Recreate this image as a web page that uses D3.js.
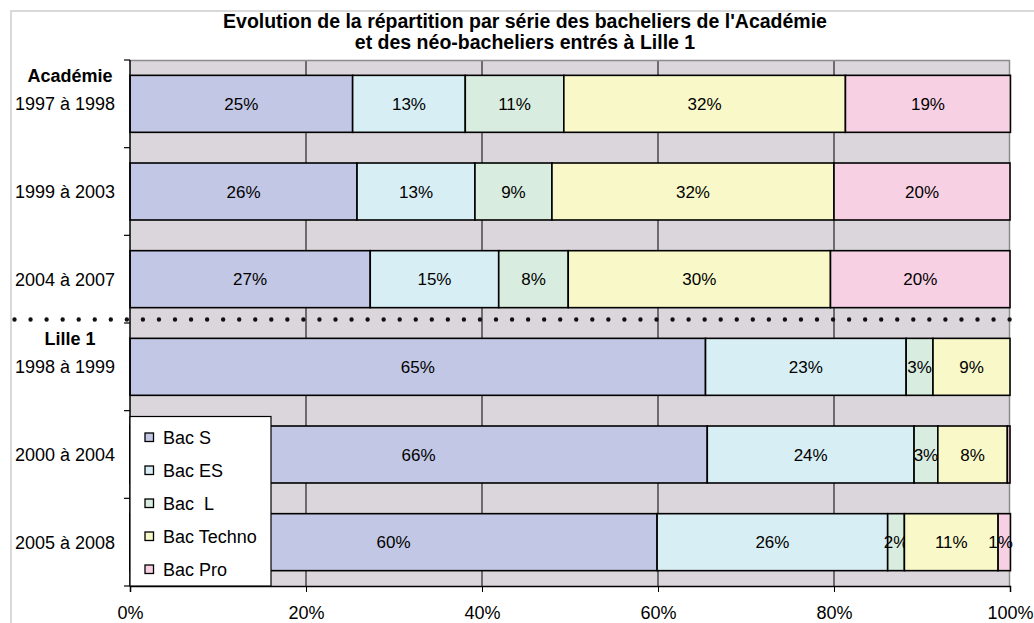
<!DOCTYPE html>
<html>
<head>
<meta charset="utf-8">
<script src="https://cdn.jsdelivr.net/npm/d3@7"></script>
<style>
body { margin: 0; background: #fff; }
svg text { font-family: "Liberation Sans", Arial, sans-serif; }
</style>
</head>
<body>
<div id="chart"></div>
<script>
// periods, top to bottom
const categories = ["1997 à 1998", "1999 à 2003", "2004 à 2007", "1998 à 1999", "2000 à 2004", "2005 à 2008"];
const groupNames = ["Académie", "Lille 1"];
const groupStart = [0, 3];
const series = ["Bac S", "Bac ES", "Bac  L", "Bac Techno", "Bac Pro"];
const colors = ["#c2c7e5", "#d7eef4", "#d8ecdf", "#f8f8c8", "#f8d0e4"];

// percentages
const bacS      = [25.3, 25.8, 27.3, 65.4, 65.6, 59.9];
const bacES     = [12.8, 13.4, 14.6, 22.8, 23.5, 26.2];
const bacL      = [11.2, 8.75, 7.9, 3.05, 2.7, 1.9];
const bacTechno = [32.0, 32.05, 29.8, 8.75, 7.9, 10.65];
const bacPro    = [18.75, 20.0, 20.4, 0, 0.3, 1.4];

const xTicks = [0, 20, 40, 60, 80, 100];

let values = [bacS, bacES, bacL, bacTechno, bacPro];
let table = categories.map((c, i) => {
  let row = {idx: i, cat: c};
  series.forEach((s, k) => row[s] = values[k][i]);
  return row;
});

const width = 1034, height = 623;
const pLeft = 130, pRight = 1010, pTop = 60, pBottom = 586;

let svg = d3.select("#chart").append("svg")
  .attr("width", width)
  .attr("height", height);

// outer chart frame (only top and left edges are in view)
svg.append("path")
  .attr("d", "M11,640V11H1034")
  .attr("fill", "none")
  .attr("stroke", "#d9d9d9")
  .attr("stroke-width", 2);

let x = d3.scaleLinear().domain([0, 100]).range([pLeft, pRight]);
let y = d3.scaleBand().domain(d3.range(categories.length))
  .range([pTop, pBottom]).paddingInner(0.35).paddingOuter(0.175);

// plot background
svg.append("rect")
  .attr("x", pLeft).attr("y", pTop)
  .attr("width", pRight - pLeft).attr("height", pBottom - pTop)
  .attr("fill", "#dbd6db");

// gridlines
svg.append("g").selectAll("line")
  .data(xTicks.slice(1, -1))
  .enter().append("line")
  .attr("x1", d => x(d)).attr("x2", d => x(d))
  .attr("y1", pTop).attr("y2", pBottom)
  .attr("stroke", "#000").attr("stroke-width", 1);

// plot border top / right
svg.append("path")
  .attr("d", `M${pLeft},${pTop + 0.5}H${pRight - 0.5}V${pBottom}`)
  .attr("fill", "none").attr("stroke", "#8c8c8c").attr("stroke-width", 1.5);

// dotted separator between the two groups
let sepY = pTop + y.step() * groupStart[1] - 3.5;
svg.append("line")
  .attr("x1", 14.5).attr("x2", pRight)
  .attr("y1", sepY).attr("y2", sepY)
  .attr("stroke", "#111")
  .attr("stroke-width", 4.4)
  .attr("stroke-linecap", "round")
  .attr("stroke-dasharray", "0,16.05");

let stacked = d3.stack().keys(series)(table);

let layer = svg.append("g").selectAll("g")
  .data(stacked)
  .enter().append("g")
  .attr("fill", (d, i) => colors[i]);

layer.selectAll("rect")
  .data(d => d)
  .enter().append("rect")
  .attr("x", d => x(d[0]))
  .attr("y", d => y(d.data.idx))
  .attr("width", d => x(d[1]) - x(d[0]))
  .attr("height", y.bandwidth())
  .attr("stroke", "#000")
  .attr("stroke-width", 1.6);

// data labels
let fmt = v => Math.round(v) + "%";
layer.selectAll("text")
  .data(d => d.filter(p => p[1] - p[0] >= 0.5))
  .enter().append("text")
  .attr("x", d => {
    let c = x((d[0] + d[1]) / 2);
    let w = fmt(d[1] - d[0]).length * 8.5;
    return Math.min(c, pRight - w / 2 - 1);
  })
  .attr("y", d => y(d.data.idx) + y.bandwidth() / 2)
  .attr("dy", "0.36em")
  .attr("text-anchor", "middle")
  .attr("fill", "#000")
  .style("font-size", "17px")
  .text(d => fmt(d[1] - d[0]));

// left axis with ticks between categories
svg.append("line")
  .attr("x1", pLeft).attr("x2", pLeft)
  .attr("y1", pTop).attr("y2", pBottom)
  .attr("stroke", "#000").attr("stroke-width", 1.5);
svg.append("g").selectAll("line")
  .data(d3.range(categories.length + 1))
  .enter().append("line")
  .attr("x1", pLeft - 6).attr("x2", pLeft)
  .attr("y1", i => pTop + i * y.step()).attr("y2", i => pTop + i * y.step())
  .attr("stroke", "#000").attr("stroke-width", 1.2);

// category labels
svg.append("g").selectAll("text")
  .data(categories)
  .enter().append("text")
  .attr("x", 65)
  .attr("y", (d, i) => y(i) + y.bandwidth() / 2)
  .attr("dy", "0.36em")
  .attr("text-anchor", "middle")
  .style("font-size", "18px")
  .text(d => d);

svg.append("g").selectAll("text")
  .data(groupNames)
  .enter().append("text")
  .attr("x", 70)
  .attr("y", (d, i) => y(groupStart[i]) + y.bandwidth() / 2 - 28)
  .attr("dy", "0.36em")
  .attr("text-anchor", "middle")
  .style("font-size", "18px")
  .style("font-weight", "bold")
  .text(d => d);

// bottom axis
let xAxis = svg.append("g")
  .attr("transform", `translate(0,${pBottom})`)
  .call(d3.axisBottom(x).tickValues(xTicks).tickFormat(d => d + "%")
    .tickSize(6).tickPadding(14));
xAxis.select(".domain").attr("stroke-width", 1.5);
xAxis.selectAll("text").style("font-size", "18px")
  .style("font-family", "'Liberation Sans', Arial, sans-serif").attr("fill", "#000");

// legend
let legend = svg.append("g");
legend.append("rect")
  .attr("x", pLeft).attr("y", 416.5)
  .attr("width", 141).attr("height", pBottom - 416.5)
  .attr("fill", "#fff").attr("stroke", "#000").attr("stroke-width", 1.2);
let item = legend.selectAll("g.item")
  .data(series)
  .enter().append("g")
  .attr("class", "item")
  .attr("transform", (d, i) => `translate(145,${444 + i * 33})`);
item.append("rect")
  .attr("x", 0).attr("y", -11)
  .attr("width", 8.5).attr("height", 8.5)
  .attr("fill", (d, i) => colors[i])
  .attr("stroke", "#000").attr("stroke-width", 1.3);
item.append("text")
  .attr("x", 18).attr("y", 0)
  .style("font-size", "18px")
  .style("white-space", "pre")
  .text(d => d);

// title
svg.append("text")
  .attr("x", 525).attr("y", 28)
  .attr("text-anchor", "middle")
  .style("font-size", "19.5px").style("font-weight", "bold")
  .text("Evolution de la répartition par série des bacheliers de l'Académie");
svg.append("text")
  .attr("x", 525).attr("y", 49)
  .attr("text-anchor", "middle")
  .style("font-size", "19.5px").style("font-weight", "bold")
  .text("et des néo-bacheliers entrés à Lille 1");
</script>
</body>
</html>
